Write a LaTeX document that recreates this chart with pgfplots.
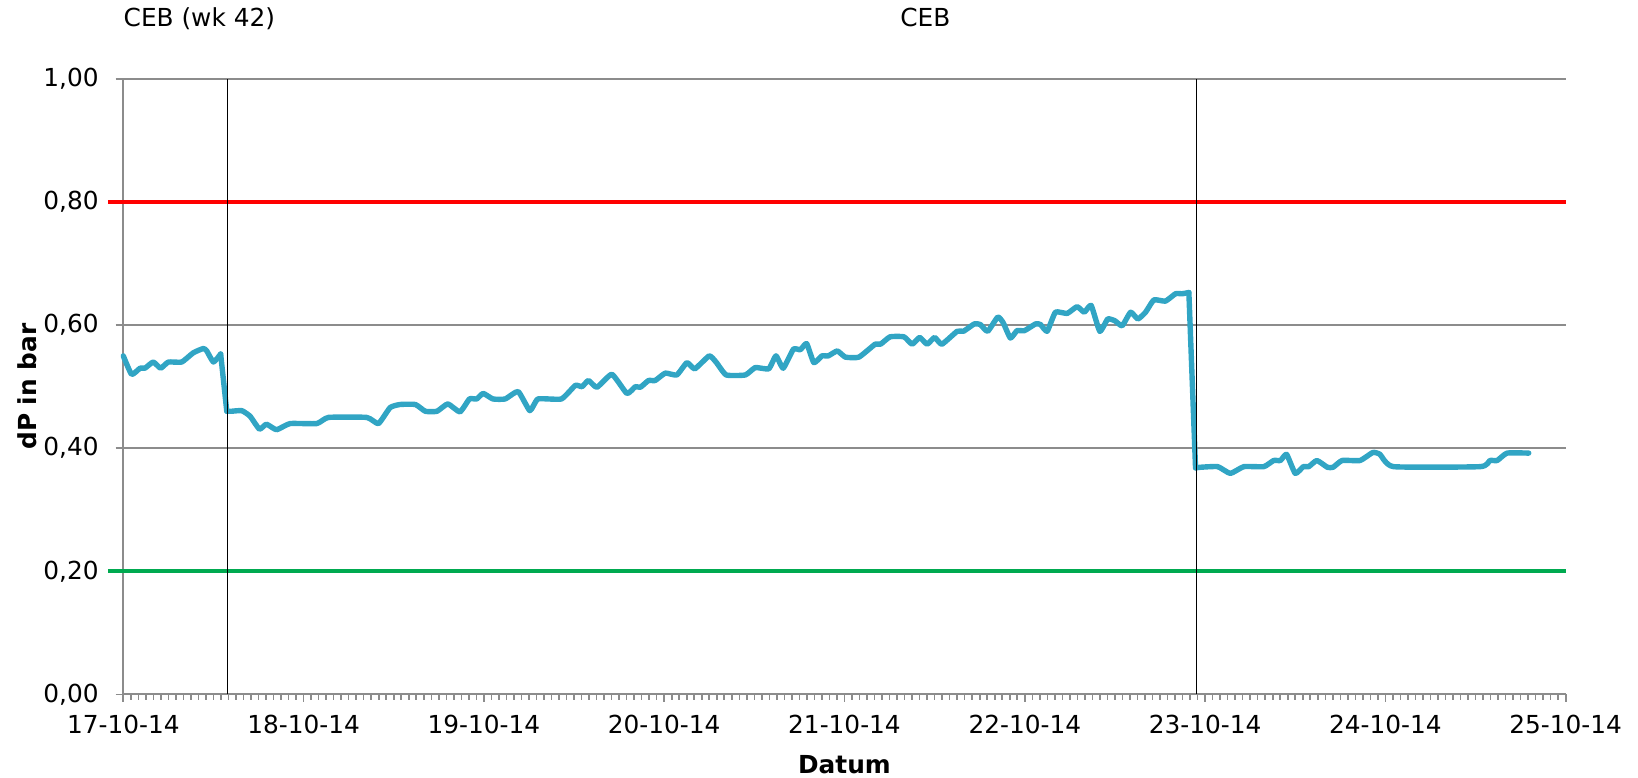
\documentclass[border=0pt]{standalone}
\usepackage{fontspec}
\setmainfont{DejaVu Sans}
\usepackage{pgfplots}
\pgfplotsset{compat=1.18}
\definecolor{gridgray}{RGB}{140,140,140}
\definecolor{dpblue}{RGB}{49,165,196}
\definecolor{limred}{RGB}{255,0,0}
\definecolor{limgreen}{RGB}{0,170,80}
\newcommand{\fs}{\fontsize{12.4pt}{14.5pt}\selectfont}
\begin{document}
\begin{tikzpicture}
\begin{axis}[
  scale only axis, width=721.2pt, height=307.65pt,
  xmin=0, xmax=8, ymin=0, ymax=1,
  axis lines*=left,
  axis line style={color=gridgray, line width=1.1pt},
  xtick={0,1,2,3,4,5,6,7,8},
  xticklabels={17-10-14,18-10-14,19-10-14,20-10-14,21-10-14,22-10-14,23-10-14,24-10-14,25-10-14},
  minor x tick num=23,
  ytick={0,0.2,0.4,0.6,0.8,1},
  ymajorgrids,
  grid style={gridgray, line width=1.1pt},
  tick align=outside,
  major tick length=3.8pt,
  minor tick length=2.8pt,
  tick style={gridgray, line width=0.8pt},
  every tick label/.append style={font=\fs, text=black},
  xticklabel style={yshift=-3.3pt},
  yticklabel style={xshift=-5pt},
  /pgf/number format/.cd, fixed, fixed zerofill, precision=2, use comma, assume math mode=true,
  /pgfplots/.cd,
  xlabel={\bfseries Datum},
  ylabel={\bfseries dP in bar},
  xlabel style={font=\fs, inner sep=0pt, at={(axis description cs:0.5,0)}, anchor=center, yshift=-35.3pt},
  ylabel style={font=\fs, inner sep=0pt, at={(axis description cs:-0.0668,0.5)}, anchor=center},
  clip=false,
  every axis plot/.append style={line cap=round, line join=round},
]
% limit lines
\addplot[limred, line width=2pt, line cap=butt] coordinates {(-0.085,0.8) (8,0.8)};
\addplot[limgreen, line width=2pt, line cap=butt] coordinates {(-0.085,0.2) (8,0.2)};
% data, part 1
\addplot[dpblue, line width=2.7pt, smooth, tension=0.28] coordinates {
(0.000,0.550) (0.046,0.520) (0.093,0.530) (0.120,0.530) (0.166,0.540) (0.207,0.530)
(0.250,0.540) (0.324,0.540) (0.388,0.555) (0.444,0.562) (0.463,0.558) (0.500,0.540)
(0.540,0.553)
};
\addplot[dpblue, line width=2.7pt] coordinates {(0.540,0.553) (0.574,0.460)};
\addplot[dpblue, line width=2.7pt, smooth, tension=0.28] coordinates {
(0.574,0.460) (0.600,0.460) (0.657,0.461) (0.703,0.452) (0.755,0.431)
(0.794,0.439) (0.850,0.430) (0.925,0.440) (1.073,0.440) (1.138,0.450) (1.350,0.450)
(1.415,0.440) (1.480,0.466) (1.535,0.471) (1.620,0.471) (1.675,0.460) (1.740,0.460)
(1.800,0.472) (1.867,0.459) (1.920,0.480) (1.960,0.480) (1.996,0.489) (2.050,0.480)
(2.118,0.480) (2.190,0.492) (2.255,0.461) (2.300,0.480) (2.430,0.480) (2.507,0.502)
(2.544,0.500) (2.580,0.510) (2.627,0.499) (2.710,0.520) (2.793,0.489) (2.840,0.500)
(2.868,0.499) (2.913,0.510) (2.950,0.510) (3.006,0.522) (3.070,0.519) (3.126,0.539)
(3.170,0.529) (3.250,0.550) (3.290,0.539) (3.344,0.519) (3.450,0.519) (3.505,0.531)
(3.580,0.529) (3.620,0.550) (3.660,0.530) (3.717,0.561) (3.755,0.560) (3.790,0.570)
(3.830,0.539) (3.875,0.550) (3.910,0.550) (3.960,0.558) (4.005,0.548) (4.080,0.548)
(4.170,0.569) (4.200,0.569) (4.253,0.581) (4.330,0.581) (4.375,0.569) (4.417,0.580)
(4.458,0.569) (4.500,0.580) (4.540,0.569) (4.625,0.590) (4.660,0.590) (4.720,0.602)
(4.753,0.601) (4.794,0.590) (4.850,0.613) (4.880,0.604) (4.920,0.579) (4.957,0.591)
(4.998,0.591) (5.060,0.602) (5.087,0.601) (5.124,0.590) (5.170,0.621) (5.235,0.619)
(5.290,0.630) (5.330,0.621) (5.368,0.632) (5.416,0.590) (5.460,0.610) (5.500,0.607)
(5.540,0.599) (5.587,0.621) (5.627,0.610) (5.670,0.621) (5.716,0.641) (5.780,0.639)
(5.836,0.651) (5.873,0.651) (5.910,0.653)
};
\addplot[dpblue, line width=2.7pt] coordinates {(5.910,0.653) (5.947,0.368)};
\addplot[dpblue, line width=2.7pt, smooth, tension=0.28] coordinates {
(5.947,0.368) (5.975,0.369) (6.070,0.370)
(6.140,0.359) (6.215,0.370) (6.326,0.370) (6.380,0.380) (6.418,0.380) (6.452,0.390)
(6.500,0.359) (6.545,0.370) (6.575,0.370) (6.620,0.380) (6.678,0.369) (6.710,0.369)
(6.760,0.380) (6.860,0.380) (6.930,0.393) (6.970,0.390) (7.045,0.370) (7.527,0.370)
(7.580,0.380) (7.620,0.380) (7.675,0.392) (7.795,0.392)
};
% period separators
\addplot[black, line width=0.8pt, line cap=butt] coordinates {(0.579,0) (0.579,1)};
\addplot[black, line width=0.8pt, line cap=butt] coordinates {(5.953,0) (5.953,1)};
% titles
\node[anchor=base west, font=\fs, inner sep=0pt] at (rel axis cs:0,1) [yshift=26.15pt] {CEB (wk 42)};
\node[anchor=base west, font=\fs, inner sep=0pt] at (rel axis cs:0.5385,1) [yshift=26.15pt] {CEB};
% page frame
\path (rel axis cs:0,0) ++(-61.65pt,-41.35pt) rectangle ++(819pt,388.5pt);
\end{axis}
\end{tikzpicture}
\end{document}
